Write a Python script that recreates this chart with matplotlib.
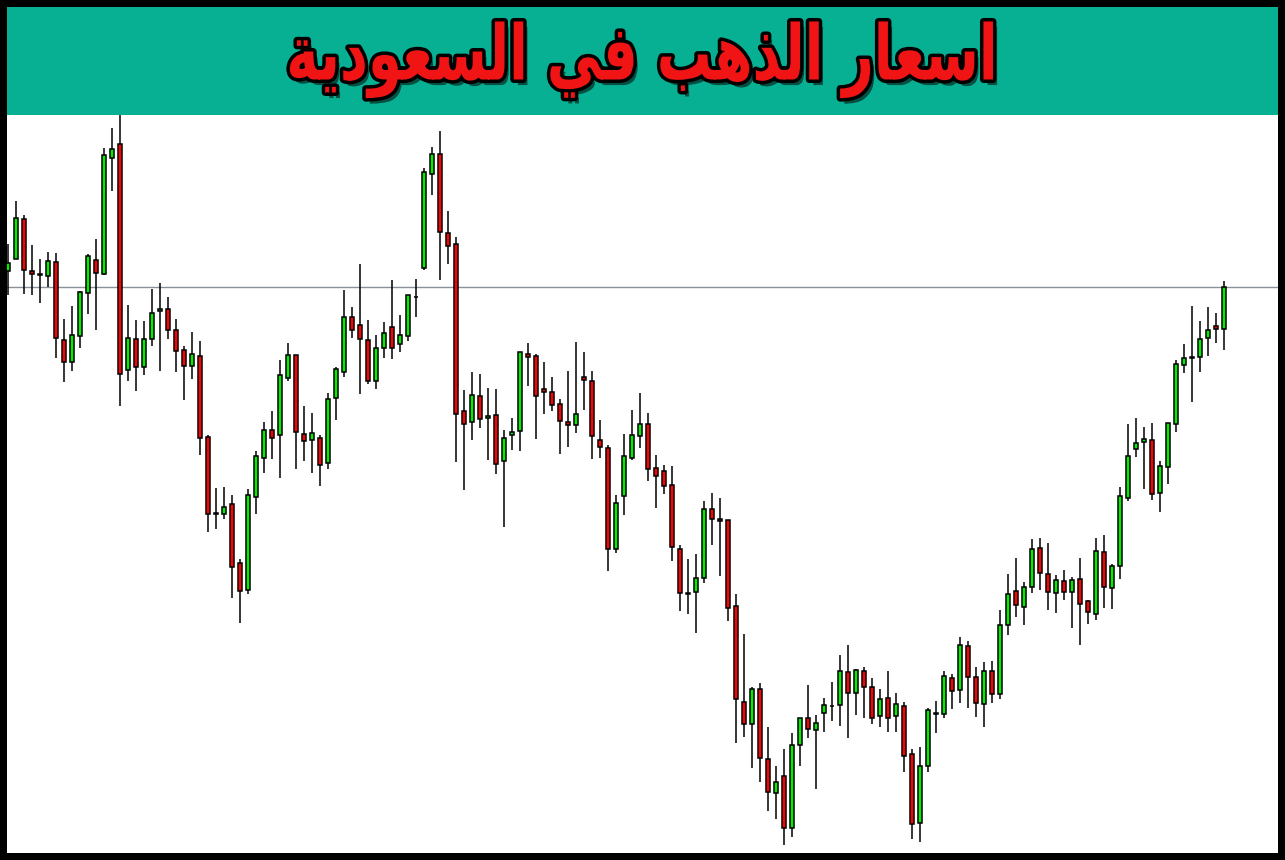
import matplotlib
matplotlib.use('Agg')
import matplotlib.pyplot as plt
import matplotlib.patheffects as pe
from matplotlib.patches import Rectangle
from matplotlib.transforms import Affine2D

# candle data (price units, one candle per session, oldest first)
opens = [589, 601, 641, 589, 586, 584, 598, 520, 498, 524,
         567, 600, 586, 702, 716, 490, 521, 493, 521, 549,
         551, 530, 510, 494, 504, 423, 347, 346, 356, 297,
         270, 363, 402, 430, 425, 482, 505, 426, 420, 422,
         397, 462, 488, 543, 535, 520, 479, 512, 533, 516,
         524, 563, 592, 686, 706, 627, 616, 449, 438, 464,
         442, 445, 399, 425, 429, 506, 504, 471, 468, 456,
         438, 435, 483, 479, 420, 412, 311, 364, 402, 424,
         436, 392, 389, 375, 311, 267, 268, 282, 351, 341,
         340, 254, 158, 136, 171, 101, 67, 84, 32, 115,
         142, 130, 147, 154, 155, 188, 167, 189, 173, 144,
         162, 144, 154, 106, 37, 94, 146, 146, 182, 170,
         214, 183, 156, 189, 166, 235, 269, 253, 273, 312,
         286, 267, 279, 268, 281, 259, 246, 308, 272, 294,
         362, 411, 418, 420, 367, 393, 436, 495, 502, 503,
         522, 534, 531]

highs = [616, 659, 645, 615, 601, 608, 607, 541, 554, 569,
         606, 621, 712, 732, 747, 555, 540, 539, 571, 577,
         563, 541, 514, 528, 519, 425, 372, 373, 365, 301,
         371, 409, 438, 449, 500, 517, 505, 454, 447, 425,
         467, 493, 570, 553, 596, 540, 525, 538, 580, 545,
         565, 581, 692, 713, 729, 649, 623, 470, 488, 486,
         472, 471, 430, 442, 508, 517, 506, 498, 483, 461,
         489, 518, 508, 489, 440, 415, 365, 426, 450, 467,
         447, 405, 395, 394, 315, 301, 306, 359, 367, 362,
         340, 266, 226, 173, 177, 133, 94, 111, 127, 142,
         175, 145, 162, 178, 205, 215, 191, 193, 182, 171,
         189, 167, 158, 111, 113, 152, 159, 189, 186, 223,
         219, 193, 198, 199, 250, 286, 302, 278, 321, 322,
         317, 285, 290, 283, 302, 260, 322, 325, 296, 373,
         436, 442, 433, 437, 399, 437, 500, 516, 554, 539,
         553, 547, 579]

lows = [565, 601, 566, 565, 557, 573, 502, 478, 489, 512,
        546, 530, 585, 669, 454, 479, 469, 485, 514, 489,
        521, 488, 460, 481, 405, 328, 331, 341, 262, 237,
        266, 346, 387, 401, 382, 479, 391, 399, 387, 374,
        391, 440, 483, 522, 466, 476, 471, 502, 501, 508,
        519, 543, 590, 665, 580, 596, 398, 370, 420, 432,
        400, 386, 333, 410, 409, 474, 421, 446, 449, 406,
        413, 427, 450, 401, 402, 289, 307, 345, 400, 412,
        379, 352, 366, 299, 249, 246, 227, 277, 315, 284,
        239, 117, 123, 92, 78, 49, 41, 15, 23, 94,
        122, 71, 128, 139, 134, 122, 145, 142, 136, 133,
        128, 128, 88, 21, 18, 88, 127, 142, 151, 157,
        152, 143, 133, 157, 161, 225, 243, 235, 267, 270,
        250, 247, 260, 232, 215, 236, 240, 252, 251, 281,
        359, 403, 371, 360, 348, 376, 428, 487, 458, 488,
        504, 517, 510]

closes = [597, 642, 590, 586, 585, 599, 522, 498, 525, 568,
          604, 587, 705, 711, 486, 522, 493, 521, 547, 551,
          530, 509, 494, 506, 422, 346, 346, 353, 293, 269,
          365, 404, 430, 422, 485, 505, 428, 419, 427, 395,
          461, 491, 543, 530, 521, 479, 512, 527, 512, 525,
          565, 563, 688, 706, 628, 614, 446, 436, 465, 441,
          444, 396, 422, 428, 508, 503, 464, 468, 455, 439,
          435, 446, 480, 424, 413, 311, 357, 404, 425, 436,
          391, 384, 374, 313, 267, 266, 282, 351, 341, 339,
          252, 161, 136, 171, 102, 68, 78, 32, 115, 142,
          131, 137, 155, 154, 189, 167, 190, 173, 142, 161,
          142, 156, 104, 36, 94, 150, 147, 184, 169, 215,
          183, 157, 189, 166, 235, 266, 255, 273, 311, 287,
          268, 280, 268, 280, 256, 248, 309, 273, 294, 364,
          404, 417, 421, 366, 394, 437, 496, 502, 503, 521,
          530, 531, 573]

# "اسعار الذهب في السعودية" - shaped presentation forms in visual order
title = ('\uFE94\uFEF3\uFEA9\uFEEE\uFECC\uFEB4\uFEDF\uFE8D' + ' '
         + '\uFEF2\uFED3' + ' '
         + '\uFE90\uFEEB\uFEAC\uFEDF\uFE8D' + ' '
         + '\uFEAD\uFE8E\uFECC\uFEB3\uFE8D')

UP = '#00f000'
DOWN = '#ff0000'


class Squeeze(pe.AbstractPathEffect):
    # narrow the glyphs horizontally around a fixed x (display pixels)
    def __init__(self, effect, sx, cx):
        super().__init__()
        self.effect = effect
        self.sx = sx
        self.cx = cx

    def draw_path(self, renderer, gc, tpath, affine, rgbFace=None):
        aff = affine + Affine2D().translate(-self.cx, 0).scale(self.sx, 1).translate(self.cx, 0)
        self.effect.draw_path(renderer, gc, tpath, aff, rgbFace)


W, H = 1285, 860
fig = plt.figure(figsize=(W / 100, H / 100), dpi=100)
fig.patch.set_facecolor('black')

# price chart area
ax = fig.add_axes([7 / W, 7 / H, (1278 - 7) / W, (853 - 115) / H])
ax.set_facecolor('white')
n = len(closes)
xs = list(range(n))
ax.vlines(xs, lows, highs, color='black', lw=1.1, zorder=2)
bw = 0.52
for i in xs:
    o, c = opens[i], closes[i]
    col = UP if c >= o else DOWN
    ax.add_patch(Rectangle((i - bw / 2, min(o, c)), bw, abs(c - o),
                           facecolor=col, edgecolor='black', lw=1.1, zorder=3))
ax.axhline(closes[-1], color='#8a9098', lw=1, zorder=1)
ax.set_xlim(-0.16, 158.71)
ax.set_ylim(7, 745)
ax.set_xticks([])
ax.set_yticks([])
for s in ax.spines.values():
    s.set_visible(False)

# banner with title
ov = fig.add_axes([0, 0, 1, 1], zorder=5)
ov.set_xlim(0, W)
ov.set_ylim(0, H)
ov.axis('off')
ov.add_patch(Rectangle((7, 745), 1271, 108, facecolor='#07af93', edgecolor='none'))
cx = 642 * fig.dpi / 100
sx = 0.715
ov.text(642, 800, title, ha='center', va='center', fontsize=55,
        fontweight='bold', color='#f01414', family=['DejaVu Sans'],
        path_effects=[Squeeze(pe.SimplePatchShadow(offset=(3, -4), shadow_rgbFace='black', alpha=0.55), sx, cx),
                      Squeeze(pe.Stroke(linewidth=5, foreground='black'), sx, cx),
                      Squeeze(pe.Normal(), sx, cx)])

fig.savefig('out.png', dpi=100, facecolor=fig.get_facecolor())
